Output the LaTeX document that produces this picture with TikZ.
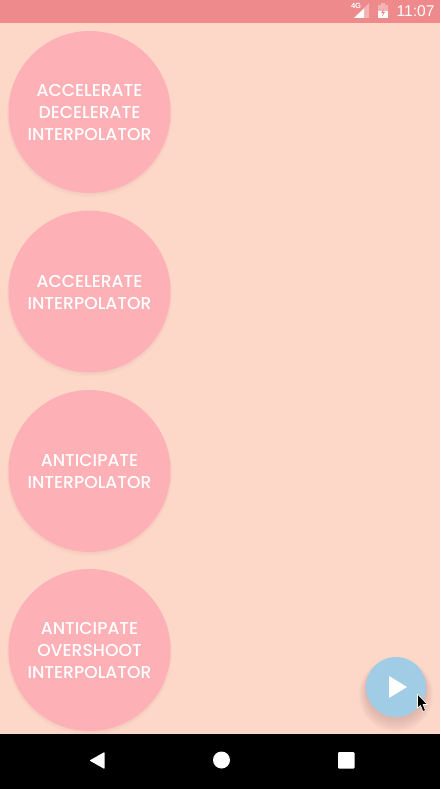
\documentclass[tikz,border=0pt]{standalone}
\usepackage{fontspec}
\setmainfont{Poppins Medium}
\newfontfamily\timefont{Liberation Sans}
\definecolor{bgc}{HTML}{FDD7C8}
\definecolor{barc}{HTML}{EE8A8C}
\definecolor{pinkc}{HTML}{FDB1B7}
\definecolor{fabc}{HTML}{A0CDE5}
\definecolor{shadc}{HTML}{B08080}
\tikzset{
  disc/.style={circle,fill=pinkc,minimum size=162pt,inner sep=0pt},
  disclabel/.style={align=center,text=white,yshift=-0.7pt,font=\fontsize{17.2}{22}\selectfont},
  softa/.style={fill=shadc,opacity=.035},
  softb/.style={fill=shadc,opacity=.045},
}
\newcommand{\discshadow}[1]{%
  \fill[softa] (89.5,#1+2.5) circle (82.5);
  \fill[softa] (89.5,#1+1.5) circle (81.8);
  \fill[softa] (89.5,#1+1) circle (81.3);
}
\begin{document}
\begin{tikzpicture}[x=1pt,y=-1pt]
\useasboundingbox (0,0) rectangle (440,789);
\fill[bgc] (0,0) rectangle (440,789);
\fill[barc] (0,0) rectangle (440,23);
\fill[black] (0,734) rectangle (440,789);
% discs
\discshadow{112}\discshadow{291.5}\discshadow{471}\discshadow{650}
\node[disc] (d1) at (89.5,112) {};
\node[disc] (d2) at (89.5,291.5) {};
\node[disc] (d3) at (89.5,471) {};
\node[disc] (d4) at (89.5,650) {};
\node[disclabel] (t1) at (d1) {ACCELERATE\\DECELERATE\\INTERPOLATOR};
\node[disclabel] (t2) at (d2) {ACCELERATE\\INTERPOLATOR};
\node[disclabel] (t3) at (d3) {ANTICIPATE\\INTERPOLATOR};
\node[disclabel] (t4) at (d4) {ANTICIPATE\\OVERSHOOT\\INTERPOLATOR};
% fab
\foreach \r/\dy in {37/8,36/7.5,35/7,34/6.5,33/6,32/5,31.5/4,31/3,30.5/2}{\fill[softb] (396,687+\dy) circle (\r);}
\fill[fabc] (396,687) circle (30);
\fill[white] (389,676) -- (407,687) -- (389,698) -- cycle;
% cursor
\fill[black,draw=white,line width=.6pt,line join=round] (417.5,694) -- (417.5,708) -- (420.5,705.5) -- (423,711.5) -- (425.5,710.5) -- (423,704.5) -- (427.5,704.5) -- cycle;
% status icons
\fill[white,opacity=.35] (369,3) -- (369,18) -- (354,18) -- cycle;
\fill[white] (364,8.5) -- (364,18) -- (354,18) -- cycle;
\node[text=white,font=\timefont\bfseries\fontsize{7.5}{8}\selectfont,inner sep=0pt] (net) at (356,6) {4G};
\fill[white,opacity=.35,rounded corners=.5pt] (378,5) rectangle (388,18);
\fill[white,opacity=.35] (381,3) rectangle (385,5);
\fill[white] (378,11) rectangle (388,18);
\fill[barc] (384,8.5) -- (381,13) -- (383,13) -- (382,16.5) -- (385,12) -- (383,12) -- cycle;
\node[text=white,font=\timefont\fontsize{15.6}{16}\selectfont,inner sep=0pt] (clock) at (415.5,11) {11:07};
% nav
\fill[white,rounded corners=.7pt] (104.5,752) -- (104.5,769) -- (89.5,760.5) -- cycle;
\fill[white] (221.5,760) circle (8.5);
\fill[white,rounded corners=1pt] (338,752) rectangle (354.5,768.5);
\end{tikzpicture}
\end{document}
